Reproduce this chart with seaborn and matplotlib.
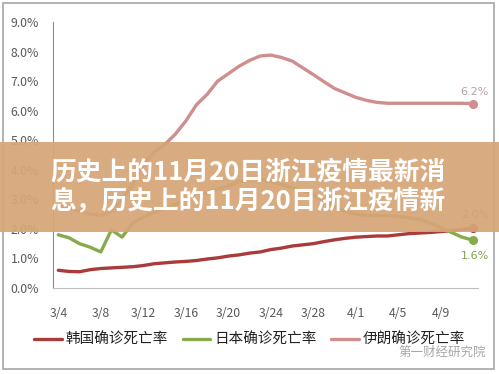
import numpy as np
import pandas as pd
import matplotlib
matplotlib.use("Agg")
import matplotlib.pyplot as plt
import seaborn as sns
from matplotlib.patches import Rectangle

# daily dates 3/4 .. 4/12
dates = [f"3/{d}" for d in range(4, 32)] + [f"4/{d}" for d in range(1, 13)]
tick_labels = ["3/4", "3/8", "3/12", "3/16", "3/20", "3/24", "3/28", "4/1", "4/5", "4/9"]
yticks = [0, 1, 2, 3, 4, 5, 6, 7, 8, 9]

korea = [0.60, 0.56, 0.55, 0.62, 0.66, 0.68, 0.70, 0.72, 0.76, 0.82,
         0.85, 0.88, 0.90, 0.93, 0.98, 1.02, 1.08, 1.12, 1.18, 1.22,
         1.30, 1.35, 1.42, 1.46, 1.50, 1.57, 1.63, 1.68, 1.72, 1.74,
         1.76, 1.76, 1.80, 1.84, 1.86, 1.88, 1.91, 1.94, 1.98, 2.03]
japan = [1.80, 1.70, 1.50, 1.38, 1.22, 1.97, 1.72, 2.20, 2.40, 2.55,
         2.70, 2.82, 3.00, 3.22, 3.20, 3.35, 3.45, 3.60, 3.65, 3.67,
         3.60, 3.50, 3.40, 3.30, 3.15, 2.95, 2.75, 2.60, 2.50, 2.45,
         2.45, 2.45, 2.42, 2.38, 2.32, 2.20, 2.05, 1.88, 1.72, 1.62]
iran = [2.80, 2.70, 2.60, 2.50, 2.45, 2.60, 3.00, 3.50, 4.15, 4.60,
        4.85, 5.20, 5.65, 6.20, 6.55, 7.00, 7.25, 7.50, 7.70, 7.85,
        7.88, 7.80, 7.68, 7.45, 7.22, 6.98, 6.75, 6.60, 6.45, 6.35,
        6.28, 6.25, 6.25, 6.25, 6.25, 6.25, 6.25, 6.25, 6.25, 6.24]

names = ["韩国确诊死亡率", "日本确诊死亡率", "伊朗确诊死亡率"]
colors = ["#A93C3A", "#86AA4C", "#D08E8E"]
label_colors = ["#A8604A", "#7FA24A", "#B8A0A0"]

sns.set_style("white")
plt.rcParams["font.family"] = ["Noto Sans CJK SC", "DejaVu Sans"]

df = pd.DataFrame({"idx": list(range(len(dates))) * 3,
                   "rate": korea + japan + iran,
                   "country": [n for n in names for _ in dates]})

fig = plt.figure(figsize=(4.99, 3.74), dpi=100)
ax = fig.add_axes([53 / 499, 1 - 288 / 374, 425 / 499, 266 / 374])
sns.lineplot(data=df, x="idx", y="rate", hue="country", hue_order=names,
             palette=colors, linewidth=2.4, ax=ax, legend=True)

for s, c, lc, dy in zip([korea, japan, iran], colors, label_colors, [0.45, -0.55, 0.38]):
    ax.plot(len(s) - 1, s[-1], "o", color=c, markersize=5.5, zorder=4)
    ax.text(len(s) - 1 + 0.2, s[-1] + dy, f"{s[-1]:.1f}%", color=lc, fontsize=8,
            ha="center", va="center", family="DejaVu Sans")

ax.set_xlim(-0.5, len(dates) - 0.5)
ax.set_ylim(0, 9)
ax.set_xticks([dates.index(t) for t in tick_labels])
ax.set_xticklabels(tick_labels)
ax.set_yticks(yticks)
ax.set_yticklabels([f"{v:.1f}%" for v in yticks])
ax.tick_params(length=0, labelsize=8.8, colors="#595959")
ax.tick_params(axis="y", pad=10)
ax.tick_params(axis="x", pad=14)
ax.set_xlabel("")
ax.set_ylabel("")
for sp in ["top", "right"]:
    ax.spines[sp].set_visible(False)
ax.spines["left"].set_color("#8C8C8C")
ax.spines["bottom"].set_color("#BFBFBF")

handles, labels = ax.get_legend_handles_labels()
ax.get_legend().remove()
fig.legend(handles, labels, loc="center", bbox_to_anchor=(0.5, 1 - 340 / 374),
           ncol=3, frameon=False, fontsize=10.5, handlelength=1.9,
           handletextpad=0.25, columnspacing=1.0, labelcolor="#222222")

# outer frame
fig.add_artist(Rectangle((3 / 499, 1 - 369 / 374), 491 / 499, 366 / 374,
                         transform=fig.transFigure, fill=False,
                         edgecolor="#A6A6A6", linewidth=1.2, zorder=1))

# watermark
fig.text(398 / 499, 1 - 352 / 374, "第一财经研究院", color="#8A8A8A",
         alpha=0.75, fontsize=9, va="center", ha="left", zorder=6)

# title banner
fig.add_artist(Rectangle((0, 1 - 232 / 374), 1, 90 / 374, transform=fig.transFigure,
                         facecolor="#D6A577", alpha=0.93, edgecolor="none", zorder=10))
fig.text(50 / 499, 1 - 172 / 374, "历史上的11月20日浙江疫情最新消", color="white",
         fontsize=18.5, fontweight="heavy", va="center", ha="left", zorder=11)
fig.text(50 / 499, 1 - 202 / 374, "息，历史上的11月20日浙江疫情新", color="white",
         fontsize=18.5, fontweight="heavy", va="center", ha="left", zorder=11)

fig.savefig("out.png", dpi=100)
